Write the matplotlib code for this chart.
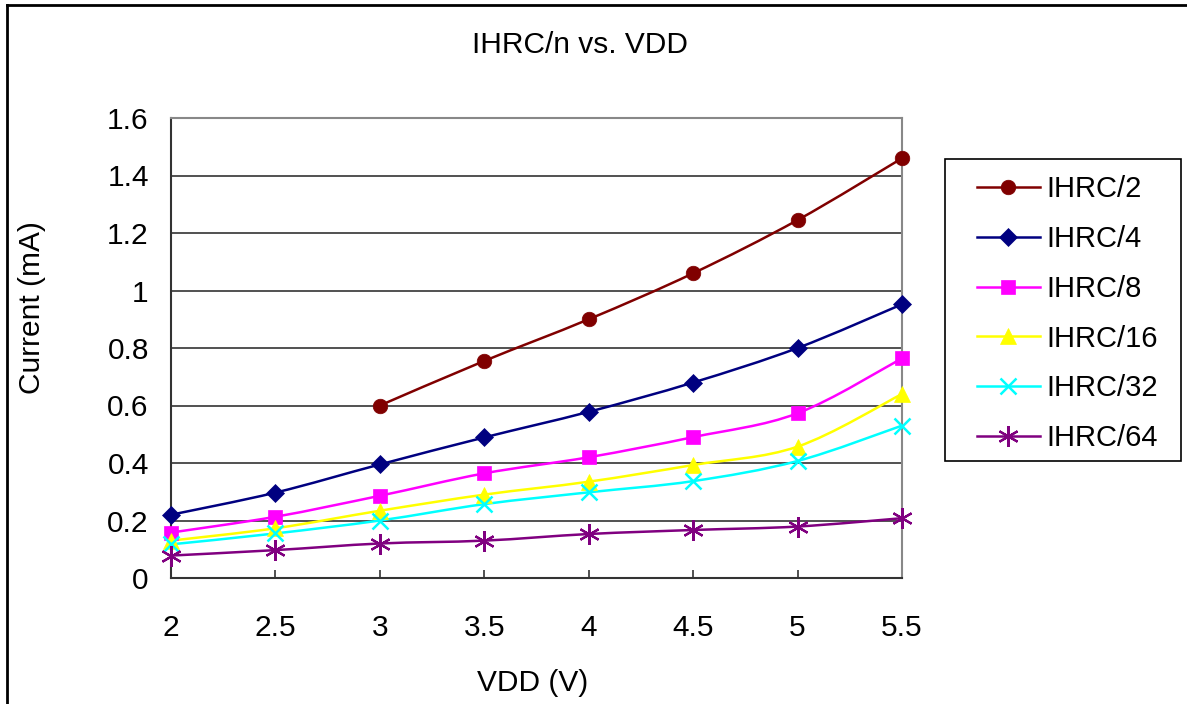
import numpy as np
import matplotlib
matplotlib.use("Agg")
import matplotlib.pyplot as plt
from matplotlib.path import Path
from matplotlib.patches import PathPatch, Rectangle
from matplotlib.lines import Line2D

plt.rcParams['font.family'] = ['Liberation Sans', 'DejaVu Sans']

vdd = [2, 2.5, 3, 3.5, 4, 4.5, 5, 5.5]
vdd_half = [3, 3.5, 4, 4.5, 5, 5.5]

ihrc2 = [0.60, 0.755, 0.90, 1.06, 1.245, 1.46]
ihrc4 = [0.22, 0.297, 0.395, 0.489, 0.578, 0.68, 0.80, 0.952]
ihrc8 = [0.158, 0.213, 0.286, 0.364, 0.42, 0.49, 0.573, 0.764]
ihrc16 = [0.13, 0.173, 0.234, 0.29, 0.335, 0.393, 0.457, 0.64]
ihrc32 = [0.117, 0.155, 0.20, 0.257, 0.298, 0.337, 0.407, 0.53]
ihrc64 = [0.078, 0.097, 0.12, 0.13, 0.153, 0.167, 0.179, 0.208]

series = [
    ('IHRC/2', vdd_half, ihrc2, '#800000', 'o', 10.5),
    ('IHRC/4', vdd, ihrc4, '#000080', 'D', 9),
    ('IHRC/8', vdd, ihrc8, '#FF00FF', 's', 10),
    ('IHRC/16', vdd, ihrc16, '#FFFF00', '^', 11),
    ('IHRC/32', vdd, ihrc32, '#00FFFF', 'x', 12),
    ('IHRC/64', vdd, ihrc64, '#800080', (6, 2, 0), 15),
]


def smooth_path(xs, ys):
    # catmull-rom style bezier, like excel "smoothed line"
    p = np.column_stack([xs, ys]).astype(float)
    pts = np.vstack([p[0], p, p[-1]])
    verts = [p[0]]
    codes = [Path.MOVETO]
    for i in range(1, len(pts) - 2):
        p0, p1, p2, p3 = pts[i - 1], pts[i], pts[i + 1], pts[i + 2]
        c1 = p1 + (p2 - p0) / 6.0
        c2 = p2 - (p3 - p1) / 6.0
        verts += [c1, c2, p2]
        codes += [Path.CURVE4] * 3
    return Path(verts, codes)


fig = plt.figure(figsize=(11.87, 7.04), dpi=100)
W, H = 1187, 704
ax = fig.add_axes([171 / W, 1 - 578 / H, (902 - 171) / W, (578 - 118) / H])

handles = []
for name, xs, ys, col, mk, ms in series:
    ax.add_patch(PathPatch(smooth_path(xs, ys), facecolor='none',
                           edgecolor=col, lw=1.8, zorder=3, clip_on=False))
    mew = 1.8 if mk == 'x' else (1.6 if mk == (6, 2, 0) else 0.5)
    ax.plot(xs, ys, linestyle='none', marker=mk, ms=ms, color=col,
            mec=col, mew=mew, zorder=4, clip_on=False)
    handles.append(Line2D([], [], color=col, lw=1.8, marker=mk,
                          ms=ms, mec=col, mew=mew))

ax.set_xlim(2, 5.5)
ax.set_ylim(0, 1.6)
ax.set_xticks(vdd)
ax.set_xticklabels(['2', '2.5', '3', '3.5', '4', '4.5', '5', '5.5'])
ax.set_yticks([0, 0.2, 0.4, 0.6, 0.8, 1.0, 1.2, 1.4, 1.6])
ax.set_yticklabels(['0', '0.2', '0.4', '0.6', '0.8', '1', '1.2', '1.4', '1.6'])
ax.tick_params(axis='x', direction='in', length=6, width=1.2, pad=26,
               labelsize=21.5, color='#333333')
ax.tick_params(axis='y', direction='in', length=0, pad=16, labelsize=21.5)
ax.grid(axis='y', color='#222222', lw=1.1)
ax.set_axisbelow(True)
for s in ['top', 'right']:
    ax.spines[s].set_color('#888888')
    ax.spines[s].set_linewidth(1.5)
for s in ['left', 'bottom']:
    ax.spines[s].set_color('#333333')
    ax.spines[s].set_linewidth(1.5)

fig.text(580 / W, 1 - 45 / H, 'IHRC/n vs. VDD', ha='center', va='center', fontsize=21.5)
fig.text(533 / W, 1 - 683 / H, 'VDD (V)', ha='center', va='center', fontsize=21.5)
fig.text(32 / W, 1 - 308 / H, 'Current (mA)', ha='center', va='center',
         rotation=90, fontsize=21.5)

# legend entries without frame, box drawn separately
leg = fig.legend(handles, [s[0] for s in series], loc='upper left',
                 bbox_to_anchor=(977 / W, 1 - 175 / H), fontsize=21,
                 frameon=False, handlelength=2.15, handletextpad=0.23,
                 labelspacing=0.75, borderpad=0, borderaxespad=0)
fig.add_artist(Rectangle((945 / W, 1 - 461 / H), (1181 - 945) / W, (461 - 159) / H,
                         transform=fig.transFigure, facecolor='none',
                         edgecolor='black', lw=1.2))

# outer chart frame (cut off at right and bottom)
fig.add_artist(Line2D([7 / W, 1.0], [1 - 5 / H, 1 - 5 / H], color='black', lw=2))
fig.add_artist(Line2D([7 / W, 7 / W], [0, 1 - 5 / H], color='black', lw=2))

fig.savefig('out.png', dpi=100)
